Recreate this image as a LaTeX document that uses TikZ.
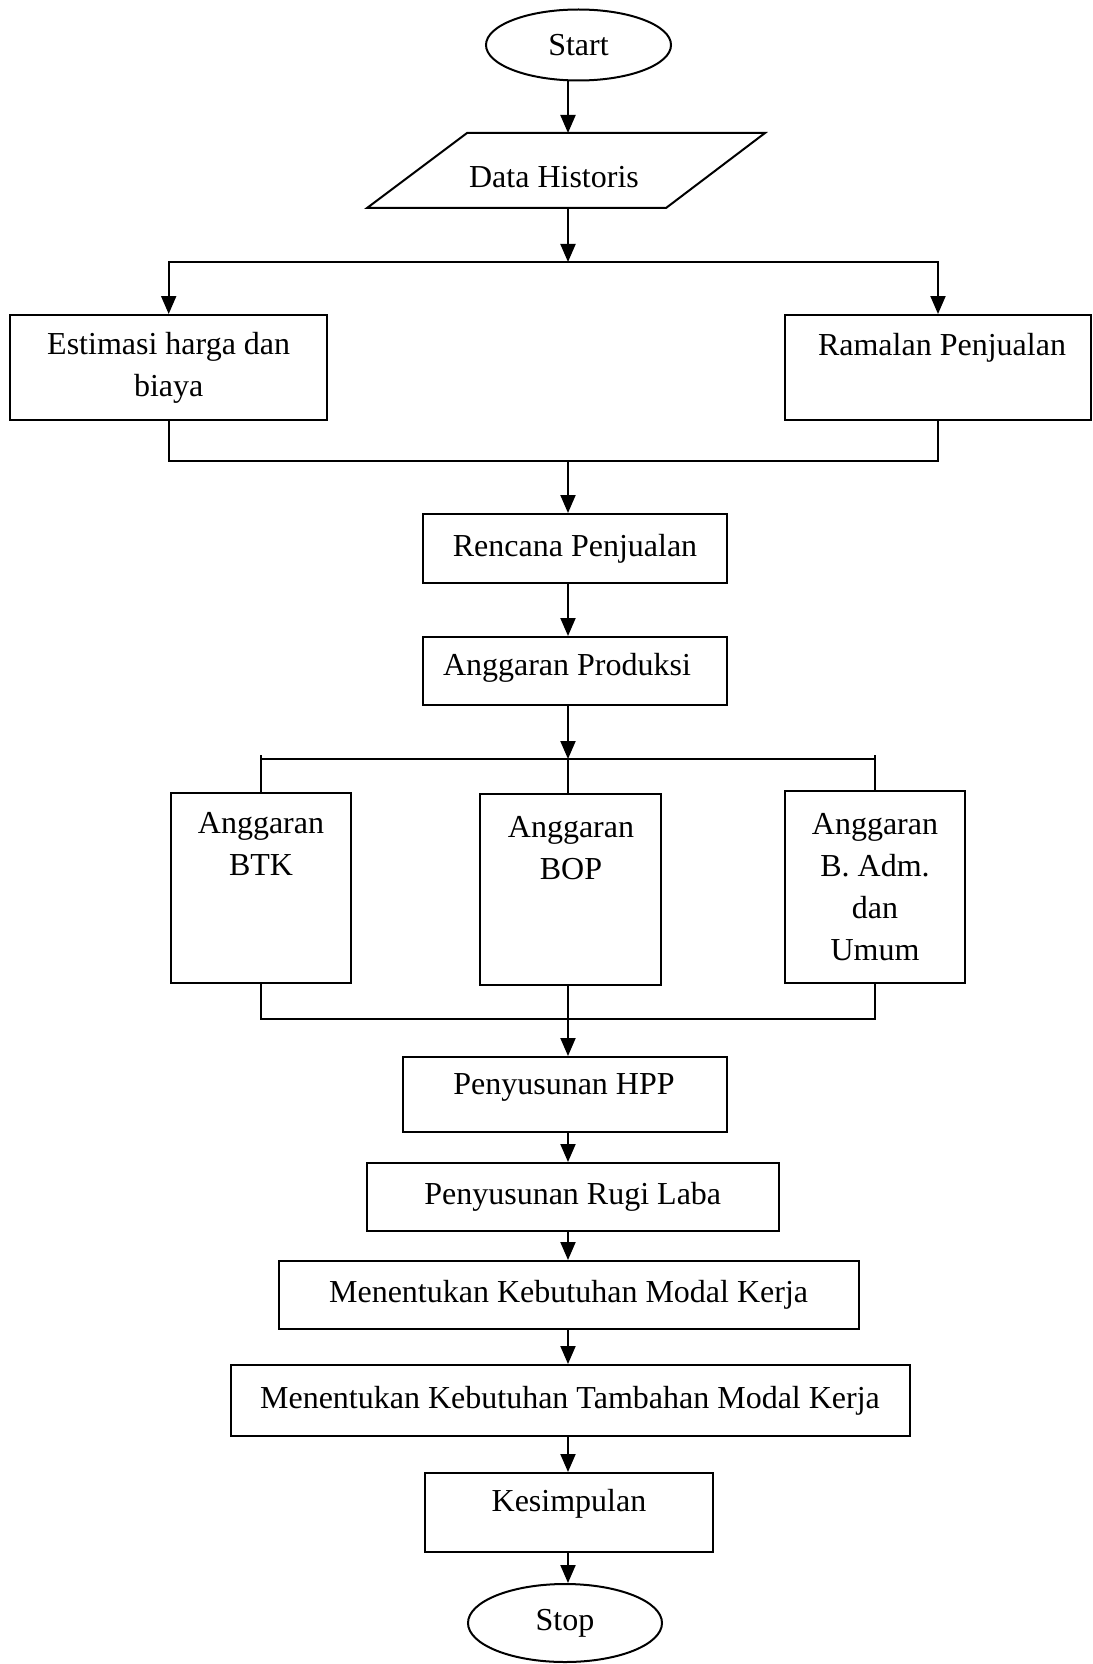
\documentclass[tikz,border=0pt]{standalone}
\usepackage{fontspec}
\setmainfont{Liberation Serif}
\usetikzlibrary{shapes.geometric,arrows.meta,calc}
\begin{document}
\begin{tikzpicture}[x=0.5pt,y=-0.5pt,
  line width=1pt,
  every node/.style={font=\fontsize{16}{21}\selectfont},
  box/.style={draw, rectangle, inner sep=0pt, align=center},
  term/.style={draw, ellipse, inner sep=0pt},
  arr/.style={-{Triangle[length=9pt,width=7.5pt]}},
  txt/.style={inner sep=0pt, align=center}]
\useasboundingbox (0,0) rectangle (1092,1664);
\coordinate (sp) at (568,0);
\coordinate (tk) at (0,755);

% Start
\node[term, minimum width=92.5pt, minimum height=35.5pt] (start) at (578.5,45) {Start};

% Data Historis (parallelogram)
\draw (367,208) -- (666,208) -- (765,133) -- (467,133) -- cycle;
\node[txt] (data) at (554,177) {Data Historis};
\coordinate (dtop) at (568,133);
\coordinate (dbot) at (568,208);
\draw[arr] (start.south -| sp) -- (dtop);

% split 1
\coordinate (j1) at (568,262);
\draw[arr] (dbot) -- (j1);
\node[box, minimum width=158.3pt, minimum height=52.5pt] (est) at (168.7,367.5) {Estimasi harga dan\\biaya};
\node[box, minimum width=153pt, minimum height=52.5pt] (ram) at (938,367.5) {};
\node[txt] (ramt) at (942,348) {Ramalan Penjualan};
\draw[arr] (j1) -| (est.north);
\draw[arr] (j1) -| (ram.north);

% merge 1
\coordinate (j2) at (568,461);
\draw (est.south) |- (j2) -| (ram.south);
\node[box, minimum width=152pt, minimum height=34.5pt] (ren) at (575,548.5) {Rencana Penjualan};
\draw[arr] (j2) -- (ren.north -| sp);

\node[box, minimum width=152pt, minimum height=34pt] (prod) at (575,671) {};
\node[txt] (prodt) at (567,668) {Anggaran Produksi};
\draw[arr] (ren.south -| sp) -- (prod.north -| sp);

% split 2
\coordinate (j3) at (568,759);
\draw[arr] (prod.south -| sp) -- (j3);
\node[box, minimum width=90pt, minimum height=95.25pt] (btk) at (261,887.75) {};
\node[txt] (btkt) at (261,844) {Anggaran\\BTK};
\node[box, minimum width=90.5pt, minimum height=95.5pt] (bop) at (570.5,889.5) {};
\node[txt] (bopt) at (571,848) {Anggaran\\BOP};
\node[box, minimum width=90pt, minimum height=96.2pt] (adm) at (875,886.8) {Anggaran\\B. Adm.\\dan\\Umum};
\draw (btk.north |- tk) -- (btk.north);
\draw (adm.north |- tk) -- (adm.north);
\draw (btk.north |- j3) -- (adm.north |- j3);
\draw (j3) -- (bop.north -| sp);

% merge 2
\coordinate (j4) at (568,1019);
\draw (btk.south) |- (j4) -| (adm.south);
\draw (bop.south -| sp) -- (j4);
\node[box, minimum width=162.25pt, minimum height=37.25pt] (hpp) at (564.75,1094.25) {};
\node[txt] (hppt) at (564,1087) {Penyusunan HPP};
\draw[arr] (j4) -- (hpp.north -| sp);

\node[box, minimum width=205.75pt, minimum height=34pt] (rugi) at (572.75,1197) {Penyusunan Rugi Laba};
\draw[arr] (hpp.south -| sp) -- (rugi.north -| sp);

\node[box, minimum width=290pt, minimum height=34pt] (modal) at (568.6,1295) {Menentukan Kebutuhan Modal Kerja};
\draw[arr] (rugi.south -| sp) -- (modal.north -| sp);

\node[box, minimum width=339.5pt, minimum height=35.5pt] (tamb) at (570,1400.5) {Menentukan Kebutuhan Tambahan Modal Kerja};
\draw[arr] (modal.south -| sp) -- (tamb.north -| sp);

\node[box, minimum width=144pt, minimum height=39.5pt] (kes) at (569,1512.5) {};
\node[txt] (kest) at (569,1504) {Kesimpulan};
\draw[arr] (tamb.south -| sp) -- (kes.north -| sp);

\node[term, minimum width=97pt, minimum height=39pt] (stop) at (565,1623) {Stop};
\draw[arr] (kes.south -| sp) -- (stop.north -| sp);
\end{tikzpicture}
\end{document}
